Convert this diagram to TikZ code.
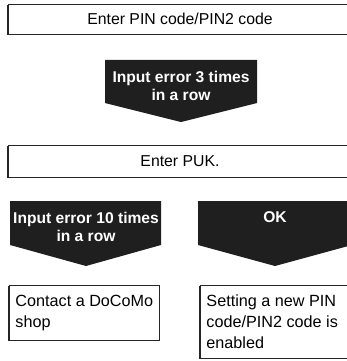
\documentclass[tikz,border=0pt]{standalone}
\usepackage{fontspec}
\setmainfont{Liberation Sans}
\usetikzlibrary{shadows}

\begin{document}
\begin{tikzpicture}[x=1pt, y=-1pt,
    box/.style={rectangle, draw=black!85, line width=0.9pt, fill=white,
        general shadow={fill=black!85, shadow xshift=-1pt, shadow yshift=-1pt},
        font=\fontsize{15.8}{21}\selectfont, inner sep=0pt},
    stepbox/.style={box, anchor=north west, align=flush left, inner xsep=6pt,
        font=\fontsize{16.2}{21}\selectfont},
    banner/.style={fill=black!88},
    bannertext/.style={text=white, align=center, font=\fontsize{15.6}{18}\selectfont\bfseries}
]
\useasboundingbox (0,0) rectangle (347,361);

% PIN entry
\node[box, minimum width=344, minimum height=30] (pin) at (180,19) {Enter PIN code/PIN2 code};

% Three wrong entries
\fill[banner] (105,60) -- (257,60) -- (257,103) -- (181,122) -- (105,103) -- cycle;
\node[bannertext] (err3) at (181,86) {Input error 3 times\\in a row};

% PUK entry
\node[box, minimum width=344, minimum height=32] (puk) at (180,161) {Enter PUK.};

% Ten wrong entries / accepted
\fill[banner] (10,201) -- (161,201) -- (161,245) -- (86,266) -- (10,245) -- cycle;
\node[bannertext] (err10) at (86,227) {Input error 10 times\\in a row};
\fill[banner] (198,201) -- (352,201) -- (352,245) -- (275,266) -- (198,245) -- cycle;
\node[bannertext] (ok) at (275,217) {OK};

% Results
\node[stepbox, text width=138, minimum height=55] (shop) at (9,285) {Contact a DoCoMo\\shop};
\node[stepbox, text width=155, minimum height=73] (newpin) at (200,285) {Setting a new PIN\\code/PIN2 code is\\enabled};

\end{tikzpicture}
\end{document}
